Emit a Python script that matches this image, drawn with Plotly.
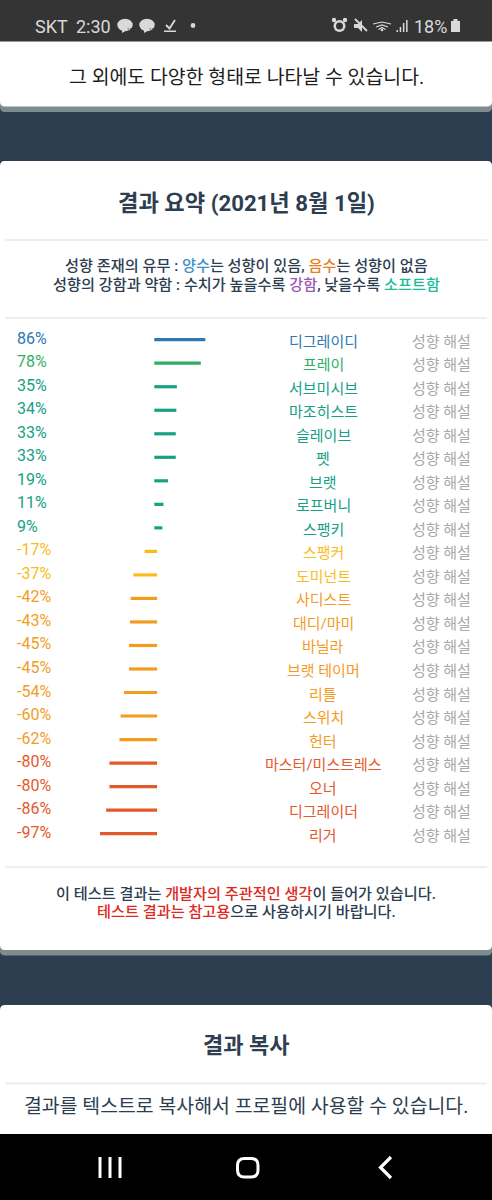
import plotly.graph_objects as go

W, H = 492, 1200
names = ["디그레이디", "프레이", "서브미시브", "마조히스트", "슬레이브", "펫", "브랫", "로프버니", "스팽키",
         "스팽커", "도미넌트", "사디스트", "대디/마미", "바닐라", "브랫 테이머", "리틀", "스위치", "헌터",
         "마스터/미스트레스", "오너", "디그레이더", "리거"]
values = [86, 78, 35, 34, 33, 33, 19, 11, 9, -17, -37, -42, -43, -45, -45, -54, -60, -62, -80, -80, -86, -97]
link_label = "성향 해설"
INK, BLUE, ORANGE, PURPLE, TEAL, RED = "#2c3e50", "#3b8fc9", "#e67e22", "#9b59b6", "#1abc9c", "#e0281e"


def colour(v):
    if v >= 80: return "#2b78b4"
    if v >= 50: return "#2fae63"
    if v >= 0: return "#16a085"
    if v > -40: return "#f8bd1c"
    if v > -70: return "#f39c1f"
    return "#e4592b"


def span(t, c):
    return f'<span style="color:{c}">{t}</span>'


# scale: 1 % = PX px, zero sits at ZERO px; rows PITCH px apart, first at FIRST px
PX, ZERO, PITCH, FIRST = 0.557, 155.7, 23.52, 339.7
CAP_OUT, CAP_IN = 3.0, 2.5
BAR_H = 3.2

bases = [-CAP_IN if v >= 0 else CAP_IN for v in values]
sizes = [v + (CAP_OUT + CAP_IN if v >= 0 else -CAP_OUT - CAP_IN) for v in values]

fig = go.Figure(go.Bar(
    y=names, x=sizes, base=bases, orientation="h", width=BAR_H / PITCH,
    marker=dict(color=[colour(v) for v in values], line=dict(width=0)),
    customdata=values, hovertemplate="%{y}: %{customdata}%<extra></extra>",
))


def X(x): return x / W
def Y(y): return 1 - y / H


shapes = []


def rect(x0, y0, x1, y1, c):
    shapes.append(dict(type="rect", xref="paper", yref="paper", x0=X(x0), x1=X(x1), y0=Y(y0), y1=Y(y1),
                       fillcolor=c, line=dict(width=0), layer="below"))


def round_rect(x0, y0, x1, y1, r, c, line=None, lw=0):
    def P(x, y): return f"{X(x)},{Y(y)}"
    pts = [(x0 + r, y0), (x1 - r, y0), (x1, y0 + r), (x1, y1 - r), (x1 - r, y1), (x0 + r, y1), (x0, y1 - r), (x0, y0 + r)]
    path = (f"M{P(*pts[0])} L{P(*pts[1])} Q{P(x1, y0)} {P(*pts[2])} L{P(*pts[3])} Q{P(x1, y1)} {P(*pts[4])} "
            f"L{P(*pts[5])} Q{P(x0, y1)} {P(*pts[6])} L{P(*pts[7])} Q{P(x0, y0)} {P(*pts[0])} Z")
    shapes.append(dict(type="path", xref="paper", yref="paper", path=path, fillcolor=c,
                       line=dict(width=lw, color=line or c), layer="below"))


def poly(pts, c=None, line=None, lw=0, close=True):
    path = "M" + " L".join(f"{X(x)},{Y(y)}" for x, y in pts) + (" Z" if close else "")
    shapes.append(dict(type="path", xref="paper", yref="paper", path=path, fillcolor=c or "rgba(0,0,0,0)",
                       line=dict(width=lw, color=line or "rgba(0,0,0,0)"), layer="below"))


def ell(cx, cy, rx, ry, c):
    shapes.append(dict(type="circle", xref="paper", yref="paper", x0=X(cx - rx), x1=X(cx + rx), y0=Y(cy - ry),
                       y1=Y(cy + ry), fillcolor=c, line=dict(width=0), layer="below"))


# page panels
rect(0, 42, W, 1135, "#2c3e50")
round_rect(0, 30, W, 112, 5, "#7f8c8d")
round_rect(0, 30, W, 106.5, 5, "#ffffff")
round_rect(0, 161, W, 955.5, 5, "#7f8c8d")
round_rect(0, 161, W, 950, 5, "#ffffff")
round_rect(0, 1005, W, 1160, 5, "#ffffff")
rect(0, 0, W, 41.5, "#343434")
rect(0, 1134, W, H, "#000000")
for yy in (240, 318, 867, 1083.5):
    rect(5, yy - 1, 487, yy + 1, "#eeeeee")

# status bar glyphs
ICON = "#d9d9d9"
for cx in (125, 147):
    ell(cx, 25, 7.7, 6.2, ICON)
    poly([(cx - 3, 29), (cx - 3, 33), (cx + 2, 30)], ICON)
poly([(166, 25), (169.5, 28.5), (175, 20)], line=ICON, lw=1.8, close=False)
rect(164, 30.5, 176, 32, ICON)
ell(193, 25.5, 2.4, 2.4, ICON)
ell(339.5, 26, 6, 6, ICON)
ell(339.5, 26, 3.5, 3.5, "#343434")
ell(334, 20, 2.2, 2.2, ICON)
ell(345, 20, 2.2, 2.2, ICON)
poly([(354, 24), (358, 24), (362, 20), (362, 32), (358, 28), (354, 28)], ICON)
poly([(355, 19), (367, 31)], line=ICON, lw=1.8, close=False)
for r, yy in ((9, 22), (6, 25), (3.5, 27.5)):
    poly([(382 - r, yy + 2), (382, yy), (382 + r, yy + 2)], line=ICON, lw=1.2, close=False)
ell(382, 30, 1.3, 1.3, ICON)
for i, hh in enumerate((2, 5, 9, 12)):
    rect(396.5 + i * 3.2, 32 - hh, 398 + i * 3.2, 32, ICON)
rect(451, 21, 460, 32, ICON)
rect(453.5, 19, 457.5, 21, ICON)

# navigation bar glyphs
for xx in (100, 110, 120):
    rect(xx - 1.5, 1157, xx + 1.5, 1178, "#ffffff")
round_rect(237.5, 1158.5, 258, 1177, 7, "rgba(0,0,0,0)", "#ffffff", 3)
poly([(391, 1157), (380.5, 1167.5), (391, 1178)], line="#ffffff", lw=3.2, close=False)

FONT = "Roboto, 'Noto Sans CJK KR', sans-serif"
ann = []


def text(x, y, t, size, c=INK, anchor="center", weight=400):
    ann.append(dict(xref="paper", yref="paper", x=X(x), y=Y(y), text=t, showarrow=False, xanchor=anchor, yanchor="middle",
                    align="center", font=dict(size=size, color=c, family=FONT, weight=weight)))


text(33, 26, "SKT", 18, ICON, "left")
text(73.5, 26, "2:30", 18, ICON, "left")
text(412, 26, "18%", 18, ICON, "left")
ann.append(dict(xref="paper", yref="paper", x=X(125), y=Y(25), text="TALK", showarrow=False, font=dict(size=4, color="#343434", family=FONT)))
ann.append(dict(xref="paper", yref="paper", x=X(147), y=Y(25), text="TALK", showarrow=False, font=dict(size=4, color="#343434", family=FONT)))

text(246, 77, "그 외에도 다양한 형태로 나타날 수 있습니다.", 19.4, "#1c1c1c")
text(246, 203, "<b>결과 요약 (2021년 8월 1일)</b>", 22.2)
text(246, 266, "성향 존재의 유무 : " + span("양수", BLUE) + "는 성향이 있음, " + span("음수", ORANGE) + "는 성향이 없음", 15.2, weight=500)
text(246, 284.5, "성향의 강함과 약함 : 수치가 높을수록 " + span("강함", PURPLE) + ", 낮을수록 " + span("소프트함", TEAL), 15.2, weight=500)
text(246, 894.5, "이 테스트 결과는 " + span("개발자의 주관적인 생각", RED) + "이 들어가 있습니다.", 15.2, weight=500)
text(246, 912, span("테스트 결과는 참고용", RED) + "으로 사용하시기 바랍니다.", 15.2, weight=500)
text(246, 1045, "<b>결과 복사</b>", 22)
text(246, 1106, "결과를 텍스트로 복사해서 프로필에 사용할 수 있습니다.", 19.4)

for n, v in zip(names, values):
    c = colour(v)
    ann.append(dict(xref="paper", yref="y", x=X(14.5), y=n, yshift=1.5, text=f"{v}%", showarrow=False, xanchor="left",
                    font=dict(size=16, color=c, family=FONT)))
    ann.append(dict(xref="paper", yref="y", x=X(323.3), y=n, yshift=-2, text=n, showarrow=False, xanchor="center",
                    font=dict(size=15, color=c, family=FONT)))
    ann.append(dict(xref="paper", yref="y", x=X(473), y=n, yshift=-2, text=link_label, showarrow=False, xanchor="right",
                    font=dict(size=15, color="#a8a8a8", family=FONT)))

fig.update_layout(
    width=W, height=H, margin=dict(l=0, r=0, t=0, b=0, pad=0), showlegend=False,
    paper_bgcolor="#ffffff", plot_bgcolor="rgba(0,0,0,0)", font=dict(family=FONT),
    shapes=shapes, annotations=ann,
    xaxis=dict(range=[-ZERO / PX, (W - ZERO) / PX], visible=False, domain=[0, 1], fixedrange=True),
    yaxis=dict(type="category", categoryorder="array", categoryarray=names, visible=False, domain=[0, 1], fixedrange=True,
               range=[(H - FIRST) / PITCH, -FIRST / PITCH]),
)
fig.write_html("out.html", config=dict(displayModeBar=False),
               post_script="document.body.style.margin='0';document.body.style.overflow='hidden';")
